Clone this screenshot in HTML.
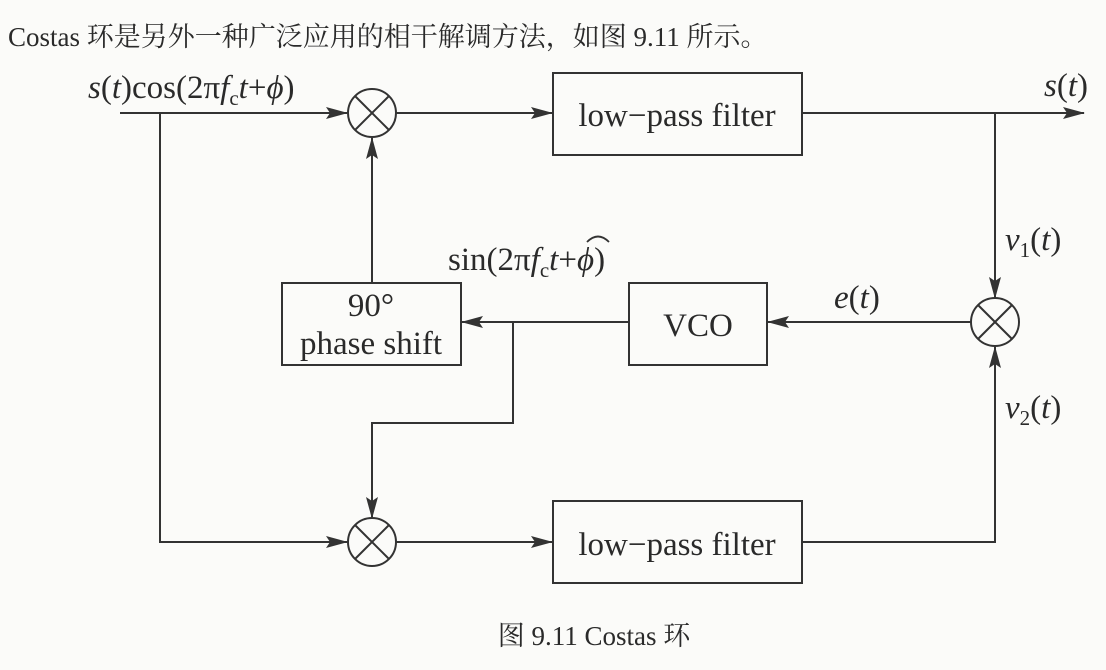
<!DOCTYPE html>
<html><head><meta charset="utf-8"><style>
html,body{margin:0;padding:0;background:#fbfbf9;}
svg{display:block}
text{font-family:"Liberation Serif","Noto Serif CJK SC",serif;fill:#2a2a2a}
</style></head><body>
<svg width="1106" height="670" viewBox="0 0 1106 670">
<defs><marker id="a" markerWidth="22" markerHeight="12" refX="21" refY="6" orient="auto" markerUnits="userSpaceOnUse"><path d="M0,0 L22,6 L0,12 L4,6 Z" fill="#333"/></marker></defs>
<text x="8" y="46" font-size="27">Costas 环是另外一种广泛应用的相干解调方法，如图 9.11 所示。</text>
<g stroke="#333" stroke-width="2" fill="none">
<line x1="120" y1="113" x2="347" y2="113" marker-end="url(#a)"/>
<circle cx="372" cy="113" r="24"/>
<line x1="355" y1="96" x2="389" y2="130"/><line x1="389" y1="96" x2="355" y2="130"/>
<line x1="396" y1="113" x2="552" y2="113" marker-end="url(#a)"/>
<rect x="553" y="73" width="249" height="82"/>
<line x1="802" y1="113" x2="1084" y2="113" marker-end="url(#a)"/>
<line x1="995" y1="113" x2="995" y2="298" marker-end="url(#a)"/>
<circle cx="995" cy="322" r="24"/>
<line x1="978" y1="305" x2="1012" y2="339"/><line x1="1012" y1="305" x2="978" y2="339"/>
<line x1="971" y1="322" x2="768" y2="322" marker-end="url(#a)"/>
<rect x="629" y="283" width="138" height="82"/>
<line x1="629" y1="322" x2="462" y2="322" marker-end="url(#a)"/>
<rect x="282" y="283" width="179" height="82"/>
<line x1="372" y1="283" x2="372" y2="138" marker-end="url(#a)"/>
<polyline points="513,322 513,423 372,423 372,518" marker-end="url(#a)"/>
<polyline points="160,113 160,542 347,542" marker-end="url(#a)"/>
<circle cx="372" cy="542" r="24"/>
<line x1="355" y1="525" x2="389" y2="559"/><line x1="389" y1="525" x2="355" y2="559"/>
<line x1="396" y1="542" x2="552" y2="542" marker-end="url(#a)"/>
<rect x="553" y="501" width="249" height="82"/>
<polyline points="802,542 995,542 995,347" marker-end="url(#a)"/>
<path d="M587,242 Q598,231 609,242" stroke-width="1.8"/>
</g>
<g font-size="33">
<text x="88" y="98"><tspan font-style="italic">s</tspan>(<tspan font-style="italic">t</tspan>)cos(2π<tspan font-style="italic">f</tspan><tspan font-size="21" dy="7">c</tspan><tspan dy="-7" font-style="italic">t</tspan>+<tspan font-style="italic">ϕ</tspan>)</text>
<text x="677" y="126" text-anchor="middle">low−pass filter</text>
<text x="677" y="555" text-anchor="middle">low−pass filter</text>
<text x="1044" y="96"><tspan font-style="italic">s</tspan>(<tspan font-style="italic">t</tspan>)</text>
<text x="1005" y="250"><tspan font-style="italic">v</tspan><tspan font-size="21" dy="7">1</tspan><tspan dy="-7">(</tspan><tspan font-style="italic">t</tspan>)</text>
<text x="1005" y="418"><tspan font-style="italic">v</tspan><tspan font-size="21" dy="7">2</tspan><tspan dy="-7">(</tspan><tspan font-style="italic">t</tspan>)</text>
<text x="834" y="308"><tspan font-style="italic">e</tspan>(<tspan font-style="italic">t</tspan>)</text>
<text x="698" y="336" text-anchor="middle">VCO</text>
<text x="371" y="316" text-anchor="middle">90°</text>
<text x="371" y="354" text-anchor="middle">phase shift</text>
<text x="448" y="270">sin(2π<tspan font-style="italic">f</tspan><tspan font-size="21" dy="7">c</tspan><tspan dy="-7" font-style="italic">t</tspan>+<tspan font-style="italic">ϕ</tspan>)</text>
</g>
<text x="594" y="645" font-size="27" text-anchor="middle">图 9.11 Costas 环</text>
</svg>
</body></html>
